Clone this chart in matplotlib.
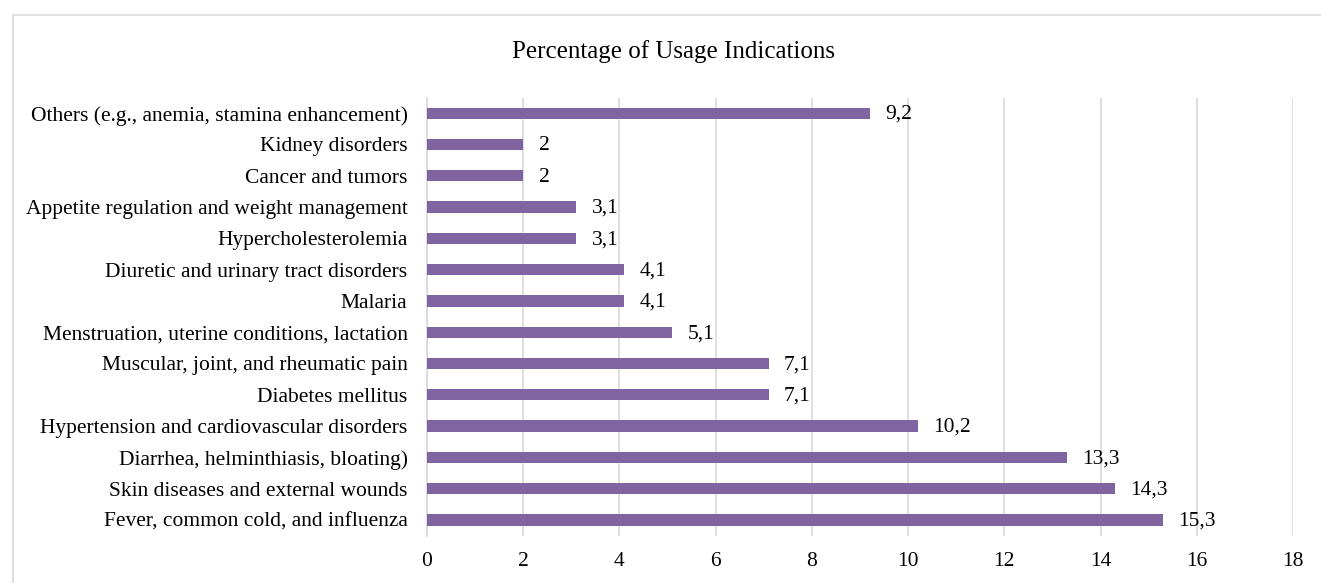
import matplotlib
matplotlib.use('Agg')
import matplotlib.pyplot as plt
import matplotlib.patches as mpatches

plt.rcParams['font.family'] = ['Liberation Serif', 'DejaVu Serif']

# Categories listed from bottom to top
categories = [
    'Fever, common cold, and influenza',
    'Skin diseases and external wounds',
    'Diarrhea, helminthiasis, bloating)',
    'Hypertension and cardiovascular disorders',
    'Diabetes mellitus',
    'Muscular, joint, and rheumatic pain',
    'Menstruation, uterine conditions, lactation',
    'Malaria',
    'Diuretic and urinary tract disorders',
    'Hypercholesterolemia',
    'Appetite regulation and weight management',
    'Cancer and tumors',
    'Kidney disorders',
    'Others (e.g., anemia, stamina enhancement)',
]
values = [15.3, 14.3, 13.3, 10.2, 7.1, 7.1, 5.1, 4.1, 4.1, 3.1, 3.1, 2, 2, 9.2]
x_ticks = [0, 2, 4, 6, 8, 10, 12, 14, 16, 18]

bar_color = '#8064A2'
grid_color = '#d9d9d9'
fs = 15.5

fig = plt.figure(figsize=(13.21, 5.83), dpi=100)
ax = fig.add_axes([427 / 1321, 1 - 535.6 / 583, (1293 - 427) / 1321, (535.6 - 97.5) / 583])

y_pos = list(range(len(categories)))
ax.barh(y_pos, values, height=0.36, color=bar_color, zorder=3)


def fmt(v):
    s = f'{v:g}'
    return s.replace('.', ',')


for y, v in zip(y_pos, values):
    ax.annotate(fmt(v), xy=(v, y), xytext=(11, -1), textcoords='offset points',
                ha='left', va='center', fontsize=fs, color='black')

ax.set_xlim(0, 18)
ax.set_ylim(-0.5, len(categories) - 0.5)
ax.set_xticks(x_ticks)
ax.set_xticklabels([str(t) for t in x_ticks], fontsize=fs)
ax.set_yticks(y_pos)
ax.set_yticklabels(categories, fontsize=fs)
ax.tick_params(axis='y', length=0, pad=14)
ax.tick_params(axis='x', length=0, pad=12)

ax.grid(axis='x', color=grid_color, linewidth=1.2, zorder=0)
ax.set_axisbelow(True)
for side in ['top', 'right', 'bottom']:
    ax.spines[side].set_visible(False)
ax.spines['left'].set_color(grid_color)
ax.spines['left'].set_linewidth(1.2)

fig.text(673 / 1321, 1 - 52 / 583, 'Percentage of Usage Indications',
         ha='center', va='center', fontsize=18)

# outer chart border
border = mpatches.Rectangle((13 / 1321, -0.01), 1.0, 1 - 15 / 583 + 0.01,
                            transform=fig.transFigure, fill=False,
                            edgecolor=grid_color, linewidth=1.2)
fig.patches.append(border)

fig.savefig('out.png', dpi=100, facecolor='white')
